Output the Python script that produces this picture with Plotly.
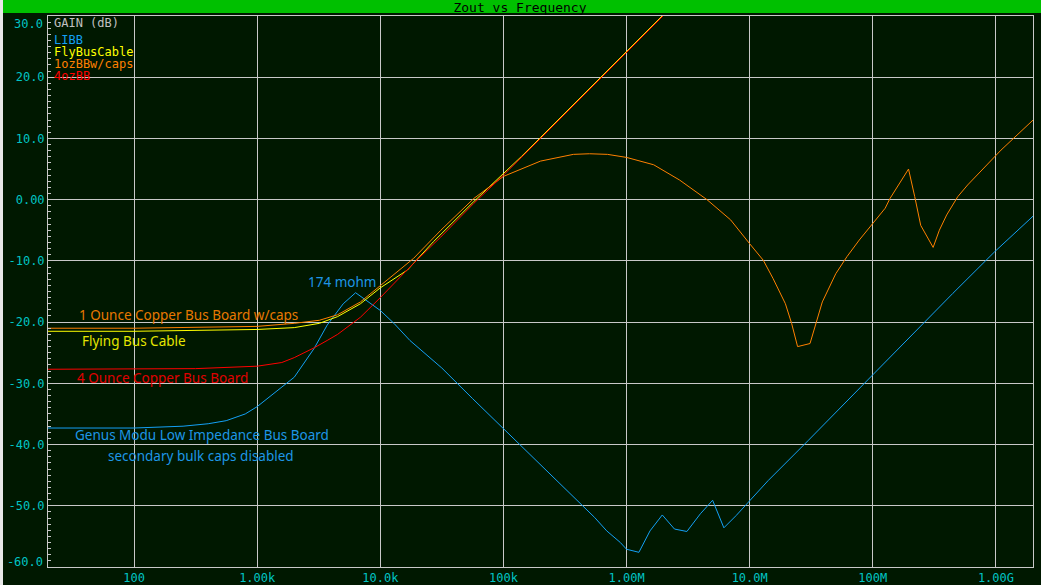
import plotly.graph_objects as go

# ---------------- data ----------------
libb_f = [20, 100, 250, 400, 560, 800, 1000, 1450, 2000, 2900, 3700, 5000, 6300,
          10000, 12900, 17400, 31600, 56200, 1e5, 2e5, 4.17e5, 5.5e5, 6.9e5, 8.9e5,
          1e6, 1.26e6, 1.55e6, 1.95e6, 2.45e6, 3.09e6, 3.98e6, 5.0e6, 6.17e6, 7.76e6,
          9.77e6, 1.41e7, 3e7, 1e8, 1.29e8, 2.57e8, 4.47e8, 9.77e8, 2e9]
libb_db = [-37.3, -37.3, -37.0, -36.6, -36.1, -35.0, -33.8, -31.2, -29.0, -24.3, -20.5, -17.0, -15.2,
           -18.1, -20.2, -23.0, -27.5, -32.5, -37.4, -43.2, -49.4, -51.9, -54.1, -56.0,
           -57.1, -57.6, -54.1, -51.5, -53.8, -54.2, -51.3, -49.1, -53.6, -51.6,
           -49.4, -45.9, -39.3, -28.6, -26.3, -20.1, -15.3, -8.5, -2.7]

fly_f = [20, 100, 1000, 2000, 3200, 4500, 6900, 10000, 16600, 26900, 57500,
         1e5, 1.4e5, 2e5, 6.3e5, 1e6, 2e6]
fly_db = [-21.5, -21.5, -21.2, -20.9, -20.2, -19.1, -17.0, -14.4, -11.5, -6.9, -0.3,
          4.2, 7.05, 10.15, 20.25, 24.25, 30.25]

oz1_f = [20, 100, 1000, 2000, 3200, 4500, 6900, 10000, 18600, 31000, 57500,
         1e5, 2e5, 3.7e5, 5e5, 7e5, 1e6, 1.66e6, 2.7e6, 4.5e6, 7e6, 1e7,
         1.29e7, 1.55e7, 1.95e7, 2.19e7, 2.45e7, 3.09e7, 3.47e7, 3.89e7, 5.0e7,
         6.17e7, 7.76e7, 9.77e7, 1.26e8, 1.38e8, 1.95e8, 2.19e8, 2.45e8, 3.09e8,
         3.47e8, 3.98e8, 4.9e8, 5.89e8, 9.77e8, 1.1e9, 2e9]
oz1_db = [-21.0, -21.0, -20.7, -20.2, -19.7, -18.8, -16.7, -14.1, -9.6, -5.0, 0.2,
          3.8, 6.3, 7.4, 7.5, 7.4, 6.9, 5.7, 3.2, 0.0, -3.3, -7.2,
          -9.9, -12.9, -17.0, -20.2, -24.0, -23.5, -20.2, -16.7, -12.1,
          -9.3, -6.6, -4.2, -1.4, 0.2, 5.0, 0.5, -4.2, -7.8,
          -5.0, -2.5, 0.5, 2.4, 7.0, 8.1, 13.0]

oz4_f = [20, 100, 316, 1000, 1585, 2000, 2900, 3700, 4500, 6900, 10000, 18600,
         31000, 57500, 1e5, 2e5, 6.3e5, 1e6, 2e6]
oz4_db = [-27.7, -27.7, -27.6, -27.2, -26.6, -25.8, -24.2, -23.0, -22.0, -19.2, -16.0, -10.4,
          -6.1, -0.6, 4.0, 10.0, 20.1, 24.1, 30.1]

series_names = ["LIBB", "FlyBusCable", "1ozBBw/caps", "4ozBB"]
series_colors = ["#14A0F5", "#FFFF00", "#FF8000", "#FF0000"]

x_tickvals = [1e2, 1e3, 1e4, 1e5, 1e6, 1e7, 1e8, 1e9]
x_ticktext = ["100", "1.00k", "10.0k", "100k", "1.00M", "10.0M", "100M", "1.00G"]
y_tickvals = [-60, -50, -40, -30, -20, -10, 0, 10, 20, 30]
y_ticktext = ["-60.0", "-50.0", "-40.0", "-30.0", "-20.0", "-10.0", "0.00", "10.0", "20.0", "30.0"]

title_text = "Zout vs Frequency"
axis_label = "GAIN (dB)"

# ---------------- figure ----------------
W, H = 1041, 585
L, R, T, B = 48, 8, 16, 18
PW, PH = W - L - R, H - T - B


def px(x):
    return (x - L) / PW


def py(y):
    return (H - B - y) / PH


BG = "#001800"
GRID = "#C8C8C8"
TICK = "#00C4C4"
MONO = "DejaVu Sans Mono"
SANS = "Noto Sans"

fig = go.Figure()
for f, d, name, col in zip([libb_f, fly_f, oz1_f, oz4_f],
                           [libb_db, fly_db, oz1_db, oz4_db],
                           series_names, series_colors):
    fig.add_trace(go.Scatter(x=f, y=d, mode="lines", name=name,
                             line=dict(color=col, width=1), hoverinfo="skip"))

fig.update_layout(
    width=W, height=H,
    margin=dict(l=L, r=R, t=T, b=B, pad=0, autoexpand=False),
    paper_bgcolor=BG, plot_bgcolor=BG,
    showlegend=False,
    title=dict(text=title_text, x=520 / W, y=1 - 7 / H, xref="container", yref="container",
               xanchor="center", yanchor="middle",
               font=dict(family=MONO, size=13, color="#000000")),
    xaxis=dict(type="log", range=[1.30103, 9.30103], automargin=False,
               tickvals=x_tickvals, ticktext=x_ticktext,
               showgrid=True, gridcolor=GRID, gridwidth=1,
               showline=True, linecolor=GRID, linewidth=1, mirror=True,
               ticks="", zeroline=False,
               tickfont=dict(family=MONO, size=12, color=TICK)),
    yaxis=dict(range=[-60, 30], automargin=False,
               tickvals=y_tickvals,
               ticktext=[("" if v in (-60, 30) else t) for v, t in zip(y_tickvals, y_ticktext)],
               showgrid=True, gridcolor=GRID, gridwidth=1,
               showline=True, linecolor=GRID, linewidth=1, mirror=True,
               ticks="inside", ticklen=3, tickcolor=GRID,
               minor=dict(dtick=1, ticks="inside", ticklen=3, tickcolor=GRID, showgrid=False),
               zeroline=False,
               tickfont=dict(family=MONO, size=12, color=TICK)),
)

shapes = [
    # green title bar
    dict(type="rect", xref="paper", yref="paper", x0=px(3), x1=px(W), y0=py(13), y1=py(0),
         fillcolor="#00C000", line=dict(width=0), layer="below"),
    # light window edge on the left
    dict(type="rect", xref="paper", yref="paper", x0=px(0), x1=px(3), y0=py(H), y1=py(0),
         fillcolor="#E8E8E8", line=dict(width=0), layer="above"),
]
# end labels of the y axis, drawn inside the plot height as in the reference
for txt, yy in [(y_ticktext[-1], 22.7), (y_ticktext[0], 561)]:
    shapes.append(dict(type="rect", xref="paper", yref="paper",
                       x0=px(6), x1=px(46), y0=py(yy + 6), y1=py(yy - 6),
                       line=dict(width=0), fillcolor="rgba(0,0,0,0)",
                       label=dict(text=txt, textposition="middle right", padding=0,
                                  font=dict(family=MONO, size=12, color=TICK))))
fig.update_layout(shapes=shapes)

ann = []
# probe-style legend
legend_rows = [(axis_label, "#C0C0C0", 23)] + [
    (n, c, yy) for n, c, yy in zip(series_names, series_colors, [40.5, 52.5, 64.5, 76.5])]
for txt, col, yy in legend_rows:
    ann.append(dict(text=txt, x=px(52), y=py(yy), xref="paper", yref="paper",
                    showarrow=False, xanchor="left", yanchor="middle",
                    font=dict(family=MONO, size=12, color=col)))
# curve callouts
callouts = [
    ("174 mohm", 341.5, 282, "#1E96E6"),
    ("1 Ounce Copper Bus Board w/caps", 188, 315, "#E87800"),
    ("Flying Bus Cable", 134, 341, "#E6E600"),
    ("4 Ounce Copper Bus Board", 162.5, 378, "#E00000"),
    ("Genus Modu Low Impedance Bus Board", 202, 435, "#1E96E6"),
    ("secondary bulk caps disabled", 201, 456, "#1E96E6"),
]
for txt, xx, yy, col in callouts:
    ann.append(dict(text=txt, x=px(xx), y=py(yy), xref="paper", yref="paper",
                    showarrow=False, xanchor="center", yanchor="middle",
                    font=dict(family=SANS, size=13.5, color=col)))
fig.update_layout(annotations=ann)

fig.write_html("out.html",
               config={"displayModeBar": False},
               post_script="document.body.style.margin='0';"
                           "document.body.style.background='#001800';"
                           "document.body.style.overflow='hidden';")
